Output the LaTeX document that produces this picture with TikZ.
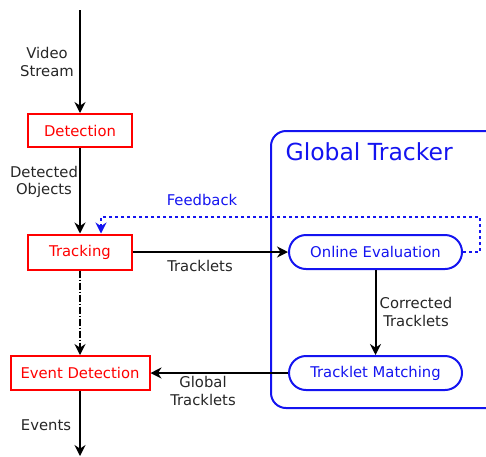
\documentclass[tikz,border=0pt]{standalone}
\usepackage{fontspec}
\setmainfont{DejaVu Sans}
\usetikzlibrary{arrows.meta}
\definecolor{rbox}{RGB}{255,0,0}
\definecolor{bbox}{RGB}{20,20,240}
\tikzset{
  redbox/.style={draw=rbox, line width=2pt, text=rbox, minimum height=33pt, inner sep=0pt, font=\fontsize{14.8}{16}\selectfont},
  bluebox/.style={draw=bbox, line width=2pt, text=bbox, rounded corners=17pt, minimum width=173pt, minimum height=34pt, inner sep=0pt, font=\fontsize{14.8}{16}\selectfont},
  flow/.style={line width=2pt, -{Stealth[length=11pt,width=11pt]}},
  lbl/.style={font=\fontsize{14.8}{17.5}\selectfont, align=center, text=black!85},
}
\begin{document}
\begin{tikzpicture}[x=1pt,y=-1pt]
\useasboundingbox (0,0) rectangle (486,456);
% Global tracker frame
\draw[draw=bbox, line width=2pt, rounded corners=15pt] (500,131) -- (271,131) -- (271,408) -- (500,408);
\node[text=bbox, font=\fontsize{23.5}{26}\selectfont, anchor=west] (gt) at (282,152) {Global Tracker};
% nodes
\node[redbox, minimum width=104pt] (det) at (80,130.5) {Detection};
\node[redbox, minimum width=104pt, minimum height=35pt] (trk) at (80,252) {Tracking};
\node[redbox, minimum width=139pt, minimum height=34pt] (evt) at (80,373) {Event Detection};
\node[bluebox] (oe) at (375.5,252) {Online Evaluation};
\node[bluebox] (tm) at (375.5,373) {Tracklet Matching};
\coordinate (top) at (80,10);
\coordinate (bot) at (80,456);
\coordinate (fb1) at (480,252);
\coordinate (fb2) at (480,217);
\coordinate (fb3) at (101,217);
% connectors
\draw[flow] (top) -- (det.north);
\draw[flow] (det.south) -- (trk.north);
\draw[flow, dash pattern=on 7pt off 2pt on 1pt off 2pt] (trk.south) -- (evt.north);
\draw[flow] (evt.south) -- (bot);
\draw[flow] (trk.east) -- (oe.west);
\draw[flow] (oe.south) -- (tm.north);
\draw[flow] (tm.west) -- (evt.east);
\draw[draw=bbox, line width=2pt, dash pattern=on 3pt off 3pt, -{Stealth[length=11pt,width=11pt]}] (oe.east) -- (fb1) -- (fb2) -- (fb3) -- (fb3 |- trk.north);
% labels
\node[lbl] (l1) at (47,62) {Video\\Stream};
\node[lbl] (l2) at (44,182) {Detected\\Objects};
\node[lbl, text=bbox] (l3) at (202,200) {Feedback};
\node[lbl] (l4) at (200,266) {Tracklets};
\node[lbl] (l5) at (416,312) {Corrected\\Tracklets};
\node[lbl] (l6) at (203,391) {Global\\Tracklets};
\node[lbl] (l7) at (46,425) {Events};
\end{tikzpicture}
\end{document}
